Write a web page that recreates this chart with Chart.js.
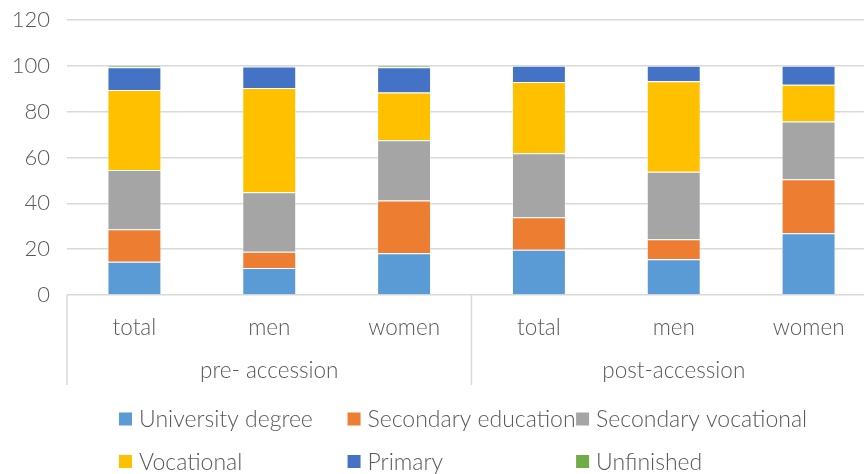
<!DOCTYPE html>
<html>
<head>
<meta charset="utf-8">
<script src="https://cdn.jsdelivr.net/npm/chart.js@4.4.1/dist/chart.umd.min.js"></script>
<style>
    html, body { margin: 0; padding: 0; background: #fff; overflow: hidden; }
    #wrap { width: 876px; height: 474px; position: relative; }
</style>
</head>
<body>
<div id="wrap"><canvas id="chart"></canvas></div>
<script>
const categories = ['total', 'men', 'women', 'total', 'men', 'women'];
const groups = ['pre- accession', 'post-accession'];
const yTicks = [0, 20, 40, 60, 80, 100, 120];

const seriesNames = ['University degree', 'Secondary education', 'Secondary vocational', 'Vocational', 'Primary', 'Unfinished'];
const university = [14.5, 11.8, 18.2, 19.7, 15.6, 26.9];
const secondaryEducation = [14.2, 7.1, 23.0, 14.2, 8.7, 23.6];
const secondaryVocational = [25.9, 25.9, 26.3, 28.0, 29.5, 25.2];
const vocational = [34.9, 45.5, 20.9, 31.0, 39.5, 16.1];
const primary = [9.9, 9.4, 11.0, 7.1, 6.7, 8.2];
const unfinished = [0.6, 0.3, 0.6, 0, 0, 0];

const colors = ['#5B9BD5', '#ED7D31', '#A5A5A5', '#FFC000', '#4472C4', '#70AD47'];
const textColor = '#595959';
const gridColor = '#d9d9d9';
const yFont = { family: 'Lato', size: 22, weight: 300 };
const xFont = { family: 'Lato', size: 22.5, weight: 300 };
const legendFont = { family: 'Lato', size: 23, weight: 300 };

// separator lines under the axis + excel style legend
const axisExtras = {
    id: 'axisExtras',
    afterDraw(chart) {
        const ctx = chart.ctx;
        const x = chart.scales.x;
        const per = categories.length / groups.length;
        ctx.save();
        ctx.strokeStyle = gridColor;
        ctx.lineWidth = 1.5;
        for (let i = 0; i <= groups.length; i++) {
            let px;
            if (i === 0) px = x.left;
            else if (i === groups.length) px = x.right;
            else px = (x.getPixelForValue(i * per - 1) + x.getPixelForValue(i * per)) / 2;
            ctx.beginPath();
            ctx.moveTo(px, x.top);
            ctx.lineTo(px, 385);
            ctx.stroke();
        }

        // legend
        ctx.font = legendFont.weight + ' ' + legendFont.size + 'px ' + legendFont.family;
        ctx.textBaseline = 'middle';
        ctx.textAlign = 'left';
        const box = 13;
        const gap = 7;
        let colW = 0;
        chart.data.datasets.forEach(ds => {
            colW = Math.max(colW, ctx.measureText(ds.label).width + box + gap - 2.5);
        });
        const startX = 119;
        const rows = [419, 461.5];
        chart.data.datasets.forEach((ds, i) => {
            const col = i % 3;
            const row = Math.floor(i / 3);
            const bx = startX + col * colW;
            const cy = rows[row];
            ctx.fillStyle = ds.backgroundColor;
            ctx.fillRect(bx, cy - box / 2, box, box);
            ctx.fillStyle = textColor;
            ctx.fillText(ds.label, bx + box + gap, cy + 1);
        });
        ctx.restore();
    }
};

const seriesValues = [university, secondaryEducation, secondaryVocational, vocational, primary, unfinished];
const datasets = seriesValues.map((vals, i) => ({
    label: seriesNames[i],
    data: vals,
    backgroundColor: colors[i],
    borderColor: 'rgba(255,255,255,0.45)',
    borderWidth: 1,
    categoryPercentage: 1,
    barPercentage: 0.4
}));

new Chart(document.getElementById('chart'), {
    type: 'bar',
    data: { labels: categories, datasets },
    plugins: [axisExtras],
    options: {
        responsive: true,
        maintainAspectRatio: false,
        animation: false,
        devicePixelRatio: 1,
        layout: { padding: { top: 20, right: 0, bottom: 89, left: 0 } },
        plugins: {
            legend: { display: false },
            tooltip: { enabled: false }
        },
        scales: {
            x: {
                stacked: true,
                grid: { display: false },
                border: { display: false },
                ticks: { color: textColor, font: xFont, padding: 11, maxRotation: 0 },
                afterFit: s => { s.height = 45; }
            },
            x2: {
                type: 'category',
                position: 'bottom',
                labels: groups,
                offset: true,
                grid: { display: false },
                border: { display: false },
                ticks: { color: textColor, font: xFont, padding: 9, maxRotation: 0 },
                afterFit: s => { s.height = 45; }
            },
            y: {
                stacked: true,
                min: 0,
                max: 120,
                afterBuildTicks: s => { s.ticks = yTicks.map(v => ({ value: v })); },
                grid: { color: gridColor, lineWidth: 1.5, drawTicks: false },
                border: { display: false },
                ticks: { color: textColor, font: yFont, padding: 17 },
                afterFit: s => { s.width = 67; s.paddingTop = 13; }
            }
        }
    }
});
</script>
</body>
</html>
